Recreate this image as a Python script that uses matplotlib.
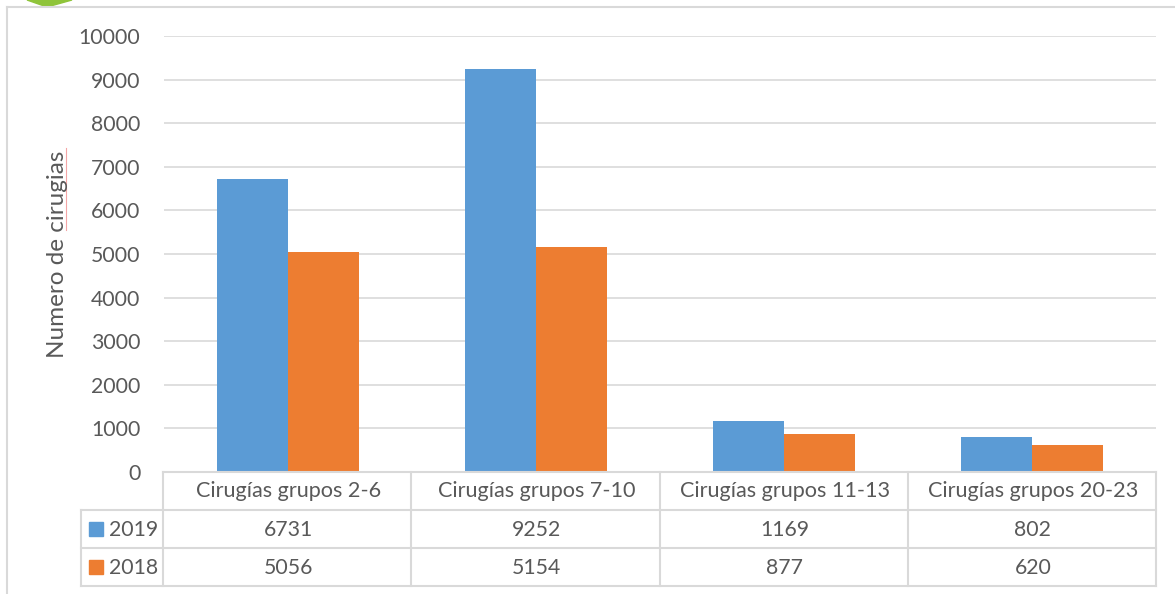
import numpy as np
import matplotlib
matplotlib.use("Agg")
import matplotlib.pyplot as plt
from matplotlib.lines import Line2D
from matplotlib.patches import Polygon, Rectangle

categories = ["Cirugías grupos 2-6", "Cirugías grupos 7-10", "Cirugías grupos 11-13", "Cirugías grupos 20-23"]
values_2019 = [6731, 9252, 1169, 802]
values_2018 = [5056, 5154, 877, 620]
yticks = [0, 1000, 2000, 3000, 4000, 5000, 6000, 7000, 8000, 9000, 10000]

blue = "#5B9BD5"
orange = "#ED7D31"
grid = "#D9D9D9"
text = "#595959"
W, H = 1175, 594

plt.rcParams["font.family"] = ["Lato", "DejaVu Sans"]
fig = plt.figure(figsize=(W / 100, H / 100), dpi=100)

def fx(x):
    return x / W

def fy(y):
    return 1 - y / H

def hline(x0, x1, y, lw=1.5):
    fig.add_artist(Line2D([fx(x0), fx(x1)], [fy(y), fy(y)], color=grid, lw=lw))

def vline(x, y0, y1, lw=1.5, color=grid):
    fig.add_artist(Line2D([fx(x), fx(x)], [fy(y0), fy(y1)], color=color, lw=lw))

left, right, top, bottom = 163, 1156, 36, 472
ax = fig.add_axes([fx(left + 1), fy(bottom), fx(right - left - 1), (bottom - top) / H])

x = np.arange(len(categories))
bw = 0.286
ax.bar(x - bw / 2, values_2019, bw, color=blue, zorder=3)
ax.bar(x + bw / 2, values_2018, bw, color=orange, zorder=3)
ax.set_xlim(-0.5, 3.5)
ax.set_ylim(0, 10000)
ax.set_yticks(yticks)
ax.set_xticks([])
ax.tick_params(axis="y", length=0, pad=17, labelsize=15.3, labelcolor=text)
ax.grid(axis="y", color=grid, lw=1.2, zorder=0)
for s in ax.spines.values():
    s.set_visible(False)
fig.text(fx(58), fy(254), "Numero de cirugias", rotation=90, ha="center", va="center",
         fontsize=17.5, color=text)

# outer frame of the chart, cropped on the right and bottom
hline(7, W, 7)
vline(7, 7, H)
fig.add_artist(Polygon([[fx(27), fy(0)], [fx(72), fy(0)], [fx(47), fy(7)]], color="#8FC43A", zorder=1))

# data table under the plot
rows = [472, 510, 548, 586]
cols = [left + i * (right - left) / 4 for i in range(5)]
legend_left = 81
hline(left, right, rows[0])
for y in rows[1:]:
    hline(legend_left, right, y)
for c in cols:
    vline(c, rows[0], rows[3])
vline(legend_left, rows[1], rows[3])

def cell(x_pos, y_pos, s, ha="center", size=15.3):
    fig.text(fx(x_pos), fy(y_pos), s, ha=ha, va="center", fontsize=size, color=text)

for i, name in enumerate(categories):
    xc = (cols[i] + cols[i + 1]) / 2 + 1
    cell(xc, 491, name, size=15.6)
    cell(xc, 530, str(values_2019[i]))
    cell(xc, 568, str(values_2018[i]))

for ym, color, label in [(529, blue, "2019"), (567, orange, "2018")]:
    fig.add_artist(Rectangle((fx(89), fy(ym + 7)), 14 / W, 14 / H, color=color))
    cell(109, ym + 1, label, ha="left")

# red spell-check underline left in the original screenshot
vline(66, 148, 230, lw=0.8, color="#F4A6A6")

fig.savefig("out.png", dpi=100)
